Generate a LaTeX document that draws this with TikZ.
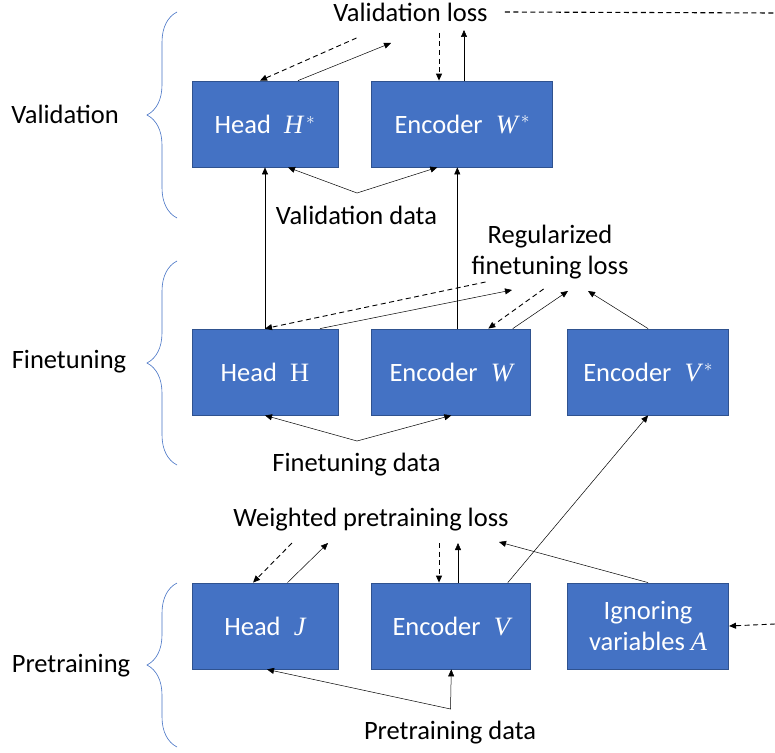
\documentclass[tikz,border=0pt]{standalone}
\usepackage{fontspec}
\setmainfont{Carlito}
\newfontfamily\varfont{Liberation Serif}
\newcommand{\mvar}[1]{{\varfont\itshape #1}}
\usetikzlibrary{arrows.meta,positioning,decorations.pathreplacing}
\definecolor{boxblue}{HTML}{4472C4}
\definecolor{boxedge}{HTML}{2F528F}

\begin{document}
\begin{tikzpicture}[x=1pt,y=-1pt,node distance=33pt,
	every node/.style={font=\fontsize{26.5}{31}\selectfont},
	block/.style={draw=boxedge,fill=boxblue,text=white,line width=0.8pt,minimum height=86pt,inner sep=0pt,align=center},
	lbl/.style={inner sep=1pt,align=center},
	sarr/.style={-{Triangle[length=7pt,width=6pt]},line width=0.5pt},
	both/.style={{Triangle[length=7pt,width=6pt]}-{Triangle[length=7pt,width=6pt]},line width=0.5pt},
	darr/.style={sarr,dash pattern=on 5pt off 3.5pt,line width=0.9pt},
	dline/.style={dash pattern=on 5pt off 3.5pt,line width=1.1pt},
	brc/.style={draw=boxblue,line width=0.6pt,decorate,decoration={brace,amplitude=30pt}}]
	\useasboundingbox (0,0) rectangle (775,752);
	
	% blocks
	\node[block,minimum width=146pt] (hs) at (265,124) {Head\enspace\mvar{H}$^{\,*}$};
	\node[block,minimum width=181pt,right=of hs] (ws) {Encoder\enspace\mvar{W}$^{\,*}$};
	\node[block,minimum width=146pt] (hh) at (265,372) {Head\enspace{\varfont H}};
	\node[block,minimum width=159pt,right=of hh] (ww) {Encoder\enspace\mvar{W}};
	\node[block,minimum width=161pt,right=36pt of ww] (vs) {Encoder\enspace\mvar{V}$^{\,*}$};
	\node[block,minimum width=146pt] (hj) at (265,626) {Head\enspace\mvar{J}};
	\node[block,minimum width=159pt,right=of hj] (ev) {Encoder\enspace\mvar{V}};
	\node[block,minimum width=161pt,right=36pt of ev] (ig) {Ignoring\\variables \mvar{A}};
	
	% labels
	\node[lbl] (vl) at (410.5,12) {Validation loss};
	\node[lbl] (vd) at (356.5,215) {Validation data};
	\node[lbl] (fl) at (550,252) {Regularized\\finetuning loss};
	\node[lbl] (fd) at (356.5,465) {Finetuning data};
	\node[lbl] (pl) at (371,520) {Weighted pretraining loss};
	\node[lbl] (pd) at (450,733) {Pretraining data};
	\node[lbl] (sv) at (65,114) {Validation};
	\node[lbl] (sf) at (69,362) {Finetuning};
	\node[lbl] (sp) at (71,666) {Pretraining};
	
	% free ends
	\coordinate (v1) at (356.5,38);
	\coordinate (v2) at (391,43);
	\coordinate (v3) at (439,33);
	\coordinate (v4) at (464,30);
	\coordinate (vdj) at (357,193);
	\coordinate (vr) at (775,13);
	\coordinate (f1) at (485.5,282);
	\coordinate (f2) at (512,290);
	\coordinate (f3) at (543.6,289);
	\coordinate (f4) at (568,291);
	\coordinate (f5) at (588,291);
	\coordinate (fdj) at (357,441);
	\coordinate (p1) at (292,543);
	\coordinate (p2) at (328,543);
	\coordinate (p3) at (439,543);
	\coordinate (p4) at (458,543);
	\coordinate (p5) at (499,542);
	\coordinate (pdj) at (450.5,709);
	\coordinate (pr) at (775,624);
	
	% validation
	\draw[darr] (v1) -- ([xshift=-5pt]hs.north);
	\draw[sarr] ([xshift=33pt]hs.north) -- (v2);
	\draw[darr] (v3) -- (v3 |- ws.north);
	\draw[sarr] (v4 |- ws.north) -- (v4);
	\draw[dline] ([xshift=16pt]vl.east) -- (vr);
	\draw[both] ([xshift=23pt]hs.south) -- (vdj) -- ([xshift=-25pt]ws.south);
	\draw[sarr] (hh.north) -- (hs.south);
	\draw[sarr] ([xshift=6pt]ww.north) -- ([xshift=-5pt]ws.south);
	
	% finetuning
	\draw[darr] (f1) -- (hh.north);
	\draw[sarr] ([xshift=55pt]hh.north) -- (f2);
	\draw[darr] (f3) -- ([xshift=37pt]ww.north);
	\draw[sarr] ([xshift=61.5pt]ww.north) -- (f4);
	\draw[sarr] (vs.north) -- (f5);
	\draw[both] (hh.south) -- (fdj) -- (ww.south);
	\draw[sarr] ([xshift=56.5pt]ev.north) -- (vs.south);
	
	% pretraining
	\draw[darr] (p1) -- ([xshift=-12pt]hj.north);
	\draw[sarr] ([xshift=22.5pt]hj.north) -- (p2);
	\draw[darr] (p3) -- (p3 |- ev.north);
	\draw[sarr] (p4 |- ev.north) -- (p4);
	\draw[sarr] (ig.north) -- (p5);
	\draw[darr] (pr) -- (ig.east);
	\draw[both] ([xshift=2pt]hj.south) -- (pdj) -- (ev.south);
	
	% braces
	\draw[brc] (177,218) -- (177,12);
	\draw[brc] (177,465) -- (177,261);
	\draw[brc] (177,747) -- (177,583);
\end{tikzpicture}
\end{document}
